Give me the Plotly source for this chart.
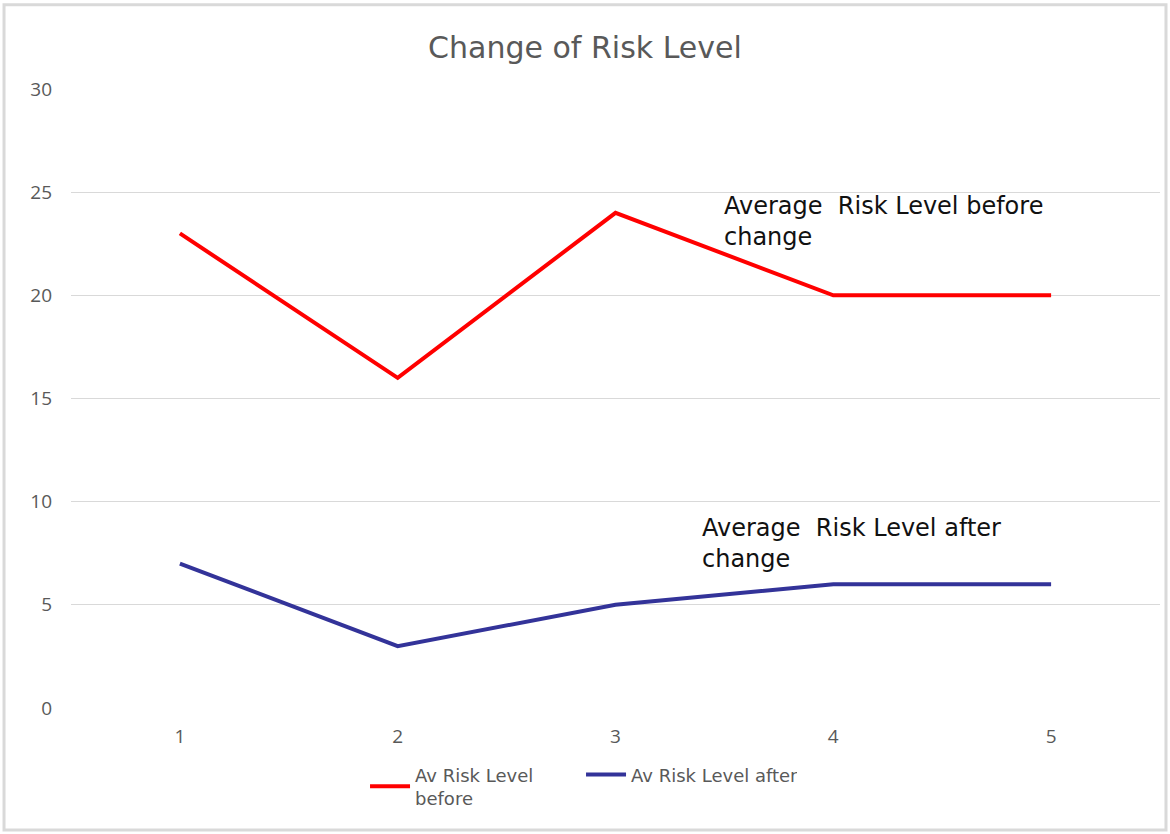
import plotly.graph_objects as go

# Risk level data per assessment
points = [1, 2, 3, 4, 5]
risk_before = [23, 16, 24, 20, 20]
risk_after = [7, 3, 5, 6, 6]
y_ticks = [0, 5, 10, 15, 20, 25, 30]

FONT = "DejaVu Sans"
GREY_TEXT = "#595959"

fig = go.Figure()
fig.add_trace(go.Scatter(
    x=points, y=risk_before, mode="lines",
    name="Av Risk Level<br>before",
    line=dict(color="#ff0000", width=4),
))
fig.add_trace(go.Scatter(
    x=points, y=risk_after, mode="lines",
    name="Av Risk Level after",
    line=dict(color="#333399", width=4),
))

fig.add_annotation(
    x=3.49, y=25.1, xref="x", yref="y", xanchor="left", yanchor="top",
    text="Average  Risk Level before<br>change", showarrow=False, align="left",
    font=dict(family=FONT, size=24, color="#111111"),
)
fig.add_annotation(
    x=3.39, y=9.5, xref="x", yref="y", xanchor="left", yanchor="top",
    text="Average  Risk Level after<br>change", showarrow=False, align="left",
    font=dict(family=FONT, size=24, color="#111111"),
)

# light frame around the whole chart
fig.add_shape(
    type="rect", xref="paper", yref="paper",
    x0=-0.0615, x1=1.0055, y0=-0.197, y1=1.136,
    line=dict(color="#d9d9d9", width=3), fillcolor="rgba(0,0,0,0)",
    layer="below",
)

fig.update_layout(
    width=1170, height=834,
    margin=dict(l=71, r=10, t=89, b=126),
    paper_bgcolor="white", plot_bgcolor="white",
    title=dict(
        text="Change of Risk Level", x=0.5, xanchor="center",
        y=0.943, yanchor="middle",
        font=dict(family=FONT, size=30, color=GREY_TEXT),
    ),
    xaxis=dict(
        range=[0.5, 5.5], tickmode="array", tickvals=points,
        showgrid=False, zeroline=False, showline=False,
        ticks="", ticklabelstandoff=15,
        tickfont=dict(family="Open Sans", size=19, color=GREY_TEXT),
    ),
    yaxis=dict(
        range=[0, 30], tickmode="array", tickvals=y_ticks,
        showgrid=True, gridcolor="#d9d9d9", gridwidth=1,
        zeroline=False, showline=False, ticks="", ticklabelstandoff=18,
        tickfont=dict(family="Open Sans", size=19, color=GREY_TEXT),
    ),
    legend=dict(
        orientation="h", x=0.270, xanchor="left", y=-0.078, yanchor="top",
        font=dict(family=FONT, size=18, color=GREY_TEXT),
        entrywidth=161, itemwidth=40, tracegroupgap=0,
        bgcolor="rgba(0,0,0,0)",
    ),
    showlegend=True,
)

fig.write_html("out.html")
